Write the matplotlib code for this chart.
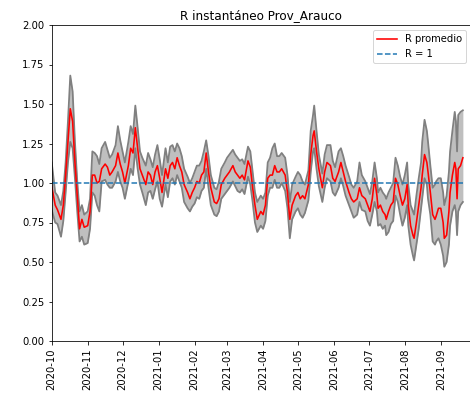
import matplotlib
matplotlib.use("Agg")
import matplotlib.pyplot as plt
import matplotlib.dates as mdates
import pandas as pd
import numpy as np

start_date = "2020-10-01"
day_offset = [0, 3, 5, 8, 10, 12, 14, 16, 18, 20, 22, 24, 26, 28, 31, 33, 35, 37, 39, 41,
              43, 46, 48, 50, 52, 55, 57, 59, 61, 63, 66, 68, 70, 72, 74, 76, 78, 81, 83, 85,
              87, 89, 91, 93, 95, 98, 100, 102, 104, 106, 108, 110, 112, 114, 117, 119, 121, 123, 125, 127,
              129, 131, 133, 135, 137, 140, 142, 144, 146, 149, 151, 153, 156, 158, 160, 162, 164, 166, 169, 171,
              173, 175, 177, 180, 182, 184, 186, 188, 190, 192, 194, 196, 198, 201, 203, 205, 207, 210, 212, 214,
              216, 218, 221, 223, 225, 226, 228, 230, 233, 235, 237, 240, 242, 244, 247, 249, 251, 253, 256, 258,
              260, 263, 265, 267, 270, 272, 274, 276, 278, 280, 281, 283, 285, 287, 288, 290, 292, 294, 296, 298,
              300, 302, 304, 306, 307, 309, 311, 312, 314, 316, 318, 319, 321, 323, 324, 326, 328, 330, 331, 333,
              335, 337, 338, 340, 342, 343, 345, 347, 348, 349, 350, 352, 354]

r_mean = [0.98, 0.86, 0.83, 0.77, 0.86, 1.05, 1.26, 1.47, 1.39, 1.13, 0.92, 0.71, 0.77, 0.72, 0.73, 0.82, 1.05, 1.05, 1.00, 1.01,
          1.09, 1.12, 1.10, 1.05, 1.07, 1.11, 1.19, 1.12, 1.07, 1.00, 1.11, 1.22, 1.19, 1.35, 1.22, 1.09, 1.05, 0.99, 1.07, 1.05,
          0.99, 1.07, 1.11, 1.03, 0.94, 1.09, 1.03, 1.11, 1.13, 1.09, 1.16, 1.11, 1.07, 0.99, 0.94, 0.90, 0.94, 0.97, 1.01, 1.00,
          1.05, 1.07, 1.19, 1.07, 0.97, 0.88, 0.87, 0.90, 0.99, 1.03, 1.05, 1.07, 1.11, 1.07, 1.05, 1.03, 1.05, 1.02, 1.14, 1.10,
          0.97, 0.86, 0.77, 0.82, 0.80, 0.86, 1.03, 1.05, 1.05, 1.11, 1.07, 1.07, 1.09, 1.05, 0.94, 0.77, 0.86, 0.92, 0.94, 0.90,
          0.92, 0.90, 0.99, 1.18, 1.30, 1.33, 1.20, 1.09, 0.97, 1.07, 1.13, 1.11, 1.03, 1.01, 1.07, 1.13, 1.07, 1.01, 0.94, 0.90,
          0.88, 0.90, 0.97, 0.92, 0.90, 0.86, 0.82, 0.90, 1.03, 0.92, 0.84, 0.86, 0.82, 0.80, 0.77, 0.82, 0.86, 0.88, 1.03, 0.99,
          0.92, 0.86, 0.90, 0.99, 0.86, 0.73, 0.67, 0.65, 0.75, 0.86, 0.97, 1.05, 1.18, 1.13, 1.07, 0.94, 0.80, 0.77, 0.79, 0.84,
          0.84, 0.75, 0.65, 0.67, 0.82, 0.94, 1.05, 1.13, 1.09, 0.90, 1.09, 1.11, 1.16]

r_low = [0.83, 0.75, 0.74, 0.66, 0.76, 0.94, 1.13, 1.26, 1.22, 1.03, 0.82, 0.63, 0.66, 0.61, 0.62, 0.71, 0.94, 0.92, 0.86, 0.82,
         1.01, 1.02, 0.99, 0.97, 0.97, 1.01, 1.07, 1.01, 0.97, 0.90, 1.01, 1.09, 1.05, 1.22, 1.09, 0.99, 0.94, 0.86, 0.94, 0.95,
         0.90, 0.96, 1.01, 0.90, 0.85, 0.99, 0.91, 1.01, 1.03, 0.99, 1.05, 1.01, 0.97, 0.88, 0.84, 0.82, 0.85, 0.87, 0.91, 0.90,
         0.95, 0.97, 1.09, 0.97, 0.86, 0.80, 0.79, 0.82, 0.90, 0.93, 0.95, 0.97, 1.01, 0.98, 0.95, 0.94, 0.96, 0.93, 1.04, 0.99,
         0.88, 0.75, 0.69, 0.73, 0.71, 0.76, 0.92, 0.97, 0.97, 1.02, 0.97, 0.97, 1.00, 0.95, 0.84, 0.65, 0.77, 0.82, 0.84, 0.80,
         0.78, 0.81, 0.89, 1.07, 1.20, 1.22, 1.09, 0.98, 0.88, 0.97, 1.03, 1.01, 0.94, 0.92, 0.97, 1.03, 0.98, 0.92, 0.86, 0.82,
         0.78, 0.80, 0.88, 0.83, 0.82, 0.76, 0.73, 0.80, 0.88, 0.82, 0.73, 0.74, 0.71, 0.73, 0.67, 0.69, 0.74, 0.76, 0.92, 0.88,
         0.80, 0.73, 0.78, 0.86, 0.73, 0.61, 0.54, 0.51, 0.61, 0.71, 0.84, 0.90, 1.03, 0.99, 0.90, 0.80, 0.63, 0.61, 0.63, 0.65,
         0.61, 0.54, 0.47, 0.50, 0.61, 0.73, 0.82, 0.86, 0.82, 0.67, 0.82, 0.86, 0.88]

r_high = [1.13, 0.94, 0.92, 0.86, 0.95, 1.13, 1.39, 1.68, 1.58, 1.26, 1.01, 0.82, 0.86, 0.80, 0.82, 0.90, 1.20, 1.19, 1.17, 1.12,
          1.22, 1.26, 1.21, 1.16, 1.18, 1.24, 1.36, 1.27, 1.20, 1.13, 1.26, 1.36, 1.31, 1.49, 1.35, 1.20, 1.16, 1.11, 1.19, 1.15,
          1.10, 1.18, 1.24, 1.15, 1.05, 1.22, 1.13, 1.23, 1.24, 1.20, 1.25, 1.22, 1.17, 1.09, 1.04, 1.00, 1.03, 1.07, 1.11, 1.11,
          1.14, 1.20, 1.27, 1.17, 1.05, 0.97, 0.96, 1.01, 1.09, 1.13, 1.16, 1.18, 1.21, 1.18, 1.16, 1.14, 1.15, 1.12, 1.23, 1.20,
          1.07, 0.94, 0.88, 0.92, 0.90, 0.94, 1.13, 1.16, 1.22, 1.25, 1.17, 1.17, 1.19, 1.16, 1.05, 0.88, 0.99, 1.04, 1.07, 1.05,
          1.01, 0.99, 1.08, 1.33, 1.43, 1.49, 1.33, 1.18, 1.06, 1.18, 1.24, 1.24, 1.14, 1.10, 1.20, 1.22, 1.17, 1.11, 1.04, 0.99,
          0.97, 1.01, 1.13, 1.05, 1.01, 0.97, 0.93, 1.01, 1.13, 1.03, 0.94, 0.97, 0.94, 0.92, 0.90, 0.94, 0.97, 1.00, 1.16, 1.11,
          1.04, 0.99, 1.05, 1.13, 0.99, 0.86, 0.82, 0.80, 0.92, 1.03, 1.13, 1.26, 1.40, 1.33, 1.26, 1.11, 0.97, 0.99, 1.01, 1.03,
          1.03, 0.94, 0.86, 0.92, 1.07, 1.20, 1.33, 1.45, 1.39, 1.20, 1.43, 1.45, 1.46]

dates = pd.to_datetime(start_date) + pd.to_timedelta(day_offset, unit="D")

DPI = 72
fig = plt.figure(figsize=(470 / DPI, 404 / DPI), dpi=DPI)
ax = fig.add_axes([51.7 / 470, 1 - 341 / 404, (471 - 51.7) / 470, (341 - 25) / 404])

ax.fill_between(dates, r_low, r_high, color="gray", alpha=0.5, linewidth=0)
ax.plot(dates, r_low, color="gray", lw=1.8)
ax.plot(dates, r_high, color="gray", lw=1.8)
ax.plot(dates, r_mean, color="red", lw=1.6, label="R promedio")
ax.plot(dates, np.ones(len(dates)), linestyle="--", color="#1f77b4", lw=1.5, label="R = 1")

ax.set_ylim(0, 2)
ax.set_yticks(np.arange(0, 2.01, 0.25))
ax.set_xlim(pd.to_datetime(start_date), pd.to_datetime(start_date) + pd.Timedelta(days=361))
ax.xaxis.set_major_locator(mdates.MonthLocator())
ax.xaxis.set_major_formatter(mdates.DateFormatter("%Y-%m"))
plt.setp(ax.get_xticklabels(), rotation=90)
ax.set_title("R instantáneo Prov_Arauco", fontsize=12)
ax.legend(loc="upper right")

fig.savefig("out.png", dpi=DPI)
